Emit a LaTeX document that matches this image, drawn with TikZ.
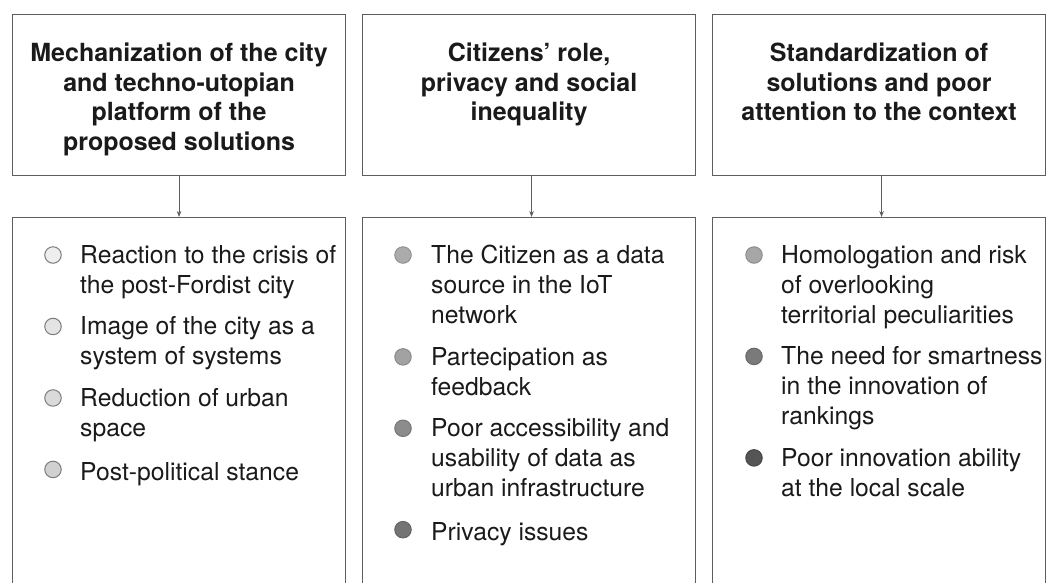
\documentclass[tikz,border=0pt]{standalone}
\usepackage{fontspec}
\setmainfont{TeX Gyre Heros}
\usetikzlibrary{arrows.meta}
\definecolor{frame}{HTML}{5E5E5E}
\definecolor{ink}{HTML}{1A1A1A}
\definecolor{ringlight}{HTML}{7C7C7C}
\definecolor{ga}{HTML}{EEEEEE}
\definecolor{gb}{HTML}{E4E4E4}
\definecolor{gc}{HTML}{DADADA}
\definecolor{gd}{HTML}{D0D0D0}
\definecolor{ge}{HTML}{ABABAB}
\definecolor{gf}{HTML}{A2A2A2}
\definecolor{gg}{HTML}{8C8C8C}
\definecolor{gh}{HTML}{747474}
\definecolor{gi}{HTML}{A6A6A6}
\definecolor{gj}{HTML}{7A7A7A}
\definecolor{gk}{HTML}{555555}
\begin{document}
\begin{tikzpicture}[x=1pt,y=-1pt,
  box/.style={draw=frame, line width=1.1pt, minimum width=333pt, inner sep=0pt, anchor=north west},
  headbox/.style={box, minimum height=161pt},
  listbox/.style={box, minimum height=420pt},
  headtext/.style={anchor=north, align=center, inner sep=0pt, text=ink,
    font=\bfseries\fontsize{25}{29.5}\selectfont,
    execute at begin node=\strut},
  item/.style={anchor=north west, align=left, inner sep=0pt, text=ink,
    font=\fontsize{24.7}{30}\selectfont,
    execute at begin node=\strut, execute at end node=\strut},
  dot/.style={circle, inner sep=0pt, minimum size=16.5pt, line width=1pt},
  link/.style={draw=frame, line width=1pt, -{Stealth[length=6pt,width=4.5pt]}}
]
\useasboundingbox (0,0) rectangle (1051,582);
\clip (0,0) rectangle (1051,582);

% header boxes
\node[headbox] (h1) at (12,14) {};
\node[headbox] (h2) at (362,14) {};
\node[headbox] (h3) at (712,14) {};
\node[headtext] (t1) at ([yshift=-29pt]h1.north) {Mechanization of the city\\and techno-utopian\\platform of the\\proposed solutions};
\node[headtext] (t2) at ([yshift=-29pt]h2.north) {Citizens’ role,\\privacy and social\\inequality};
\node[headtext] (t3) at ([yshift=-29pt]h3.north) {Standardization of\\solutions and poor\\attention to the context};

% list boxes (open towards the bottom edge)
\node[listbox] (l1) at (12,217) {};
\node[listbox] (l2) at (362,217) {};
\node[listbox] (l3) at (712,217) {};

\draw[link] (h1.south) -- (l1.north);
\draw[link] ([xshift=2.5pt]h2.south) -- ([xshift=2.5pt]l2.north);
\draw[link] ([xshift=2.5pt]h3.south) -- ([xshift=2.5pt]l3.north);

% column 1
\node[item] (a1) at (80,245) {Reaction to the crisis of\\the post-Fordist city};
\node[item] (a2) at ([yshift=-14pt]a1.south west) {Image of the city as a\\system of systems};
\node[item] (a3) at ([yshift=-14pt]a2.south west) {Reduction of urban\\space};
\node[item] (a4) at ([yshift=-14pt]a3.south west) {Post-political stance};
\node[dot, fill=ga, draw=ringlight] (da1) at ([xshift=-27pt,yshift=-10pt]a1.north west) {};
\node[dot, fill=gb, draw=ringlight] (da2) at ([xshift=-27pt,yshift=-10pt]a2.north west) {};
\node[dot, fill=gc, draw=ringlight] (da3) at ([xshift=-27pt,yshift=-10pt]a3.north west) {};
\node[dot, fill=gd, draw=ringlight] (da4) at ([xshift=-27pt,yshift=-10pt]a4.north west) {};

% column 2
\node[item] (b1) at (431,245) {The Citizen as a data\\source in the IoT\\network};
\node[item] (b2) at ([yshift=-14pt]b1.south west) {Partecipation as\\feedback};
\node[item] (b3) at ([yshift=-14pt]b2.south west) {Poor accessibility and\\usability of data as\\urban infrastructure};
\node[item] (b4) at ([yshift=-14pt]b3.south west) {Privacy issues};
\node[dot, fill=ge, draw=ge!85!black] (db1) at ([xshift=-28pt,yshift=-10pt]b1.north west) {};
\node[dot, fill=gf, draw=gf!85!black] (db2) at ([xshift=-28pt,yshift=-10pt]b2.north west) {};
\node[dot, fill=gg, draw=gg!85!black] (db3) at ([xshift=-28pt,yshift=-10pt]b3.north west) {};
\node[dot, fill=gh, draw=gh!85!black] (db4) at ([xshift=-28pt,yshift=-10pt]b4.north west) {};

% column 3
\node[item] (c1) at (781,245) {Homologation and risk\\of overlooking\\territorial peculiarities};
\node[item] (c2) at ([yshift=-14pt]c1.south west) {The need for smartness\\in the innovation of\\rankings};
\node[item] (c3) at ([yshift=-14pt]c2.south west) {Poor innovation ability\\at the local scale};
\node[dot, fill=gi, draw=gi!85!black] (dc1) at ([xshift=-27pt,yshift=-10pt]c1.north west) {};
\node[dot, fill=gj, draw=gj!85!black] (dc2) at ([xshift=-27pt,yshift=-10pt]c2.north west) {};
\node[dot, fill=gk, draw=gk!85!black] (dc3) at ([xshift=-27pt,yshift=-10pt]c3.north west) {};
\end{tikzpicture}
\end{document}
